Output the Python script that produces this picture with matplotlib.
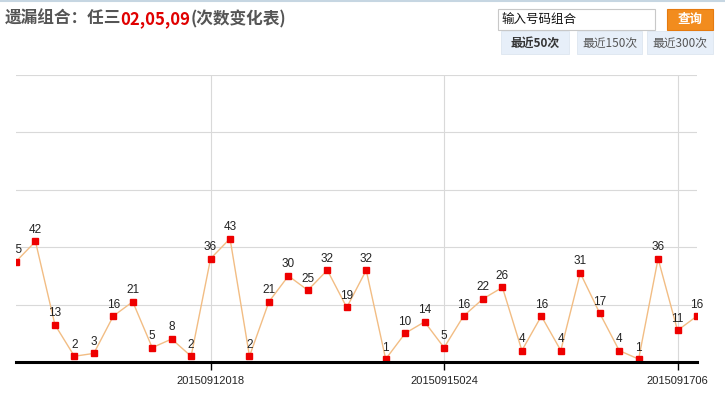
import matplotlib
matplotlib.use('Agg')
from matplotlib import pyplot as plt
from matplotlib.patches import Rectangle

plt.rcParams['font.family'] = ['Noto Sans CJK SC', 'DejaVu Sans']

# 遗漏次数 (最近显示的部分)
values = [35, 42, 13, 2, 3, 16, 21, 5, 8, 2, 36, 43, 2, 21, 30, 25, 32, 19,
          32, 1, 10, 14, 5, 16, 22, 26, 4, 16, 4, 31, 17, 4, 1, 36, 11, 16]
tick_pos = [10, 22, 34]
tick_labels = ['20150912018', '20150915024', '2015091706']
y_grid = [0, 20, 40, 60, 80, 100]

W, H = 725, 397
fig = plt.figure(figsize=(W / 100, H / 100), dpi=100)


def fx(x):
    return x / W


def fy(y):
    return 1 - y / H


# 顶部细线
fig.add_artist(plt.Line2D([0, 1], [fy(0.5), fy(0.5)], color='#c6d6e2', lw=1.5))

# 标题: 逐段拼接
renderer = fig.canvas.get_renderer()
parts = [('遗漏组合：任三', '#555555', 0), ('02,05,09', '#e00000', -1), ('(次数变化表)', '#555555', 0)]
x0 = fx(5)
for txt, col, shift in parts:
    t = fig.text(x0 + shift / W, fy(19), txt, color=col, fontsize=12, fontweight='bold',
                 va='center', ha='left')
    bb = t.get_window_extent(renderer)
    x0 = bb.x1 / W

# 输入框 + 按钮
fig.add_artist(Rectangle((fx(498), fy(30)), (655 - 498) / W, 21 / H,
                         facecolor='white', edgecolor='#c8c8c8', lw=0.8))
fig.text(fx(501), fy(19.5), '输入号码组合', fontsize=9, color='#111111', va='center')
fig.add_artist(Rectangle((fx(667), fy(30)), 46 / W, 21 / H,
                         facecolor='#f28c1e', edgecolor='#e57a10', lw=0.8))
fig.text(fx(690), fy(19.5), '查询', fontsize=9, color='white', fontweight='bold',
         va='center', ha='center')

# 切换按钮
tabs = [('最近50次', 501, 569, True), ('最近150次', 577, 642, False), ('最近300次', 647, 713, False)]
for label, a, b, bold in tabs:
    fig.add_artist(Rectangle((fx(a), fy(54)), (b - a) / W, 23 / H,
                             facecolor='#e7eff9', edgecolor='#dde6f0', lw=0.6))
    fig.text(fx((a + b) / 2), fy(43), label, fontsize=8.5, ha='center', va='center',
             color='#333333' if bold else '#555555',
             fontweight='bold' if bold else 'normal')

# 图表区域
ax = fig.add_axes([fx(16), fy(362), (697 - 16) / W, (362 - 75) / H])
x = list(range(len(values)))
ax.plot(x, values, color='#f2bd84', lw=1, zorder=2)
ax.plot(x, values, ls='none', marker='s', markersize=5, color='#ee0000', zorder=3)
for i, v in zip(x, values):
    t = ax.annotate(str(v), (i, v), xytext=(0, 4), textcoords='offset points',
                    ha='center', va='bottom', fontsize=8.5, color='#222222',
                    family=['Liberation Sans', 'DejaVu Sans'], annotation_clip=False)
    if i == 0:
        # 最左边的标签被图表边界截掉
        t.set_clip_path(None)
        t.set_clip_box(ax.bbox)
        t.set_clip_on(True)
    else:
        t.set_clip_on(False)

ax.set_xlim(0, len(values) - 1)
ax.set_ylim(0, 100)
ax.set_yticks(y_grid)
ax.set_yticklabels([])
ax.tick_params(axis='y', length=0)
ax.set_xticks(tick_pos)
ax.set_xticklabels(tick_labels, fontsize=8, color='#222222',
                   family=['Liberation Sans', 'DejaVu Sans'])
ax.tick_params(axis='x', length=6, width=1, color='black', pad=4)
ax.grid(True, color='#d9d9d9', lw=0.8)
ax.set_axisbelow(True)
for s in ['top', 'right', 'left']:
    ax.spines[s].set_visible(False)
ax.spines['bottom'].set_linewidth(2.2)
ax.spines['bottom'].set_color('black')
ax.spines['bottom'].set_zorder(4)

fig.savefig('out.png', dpi=100)
